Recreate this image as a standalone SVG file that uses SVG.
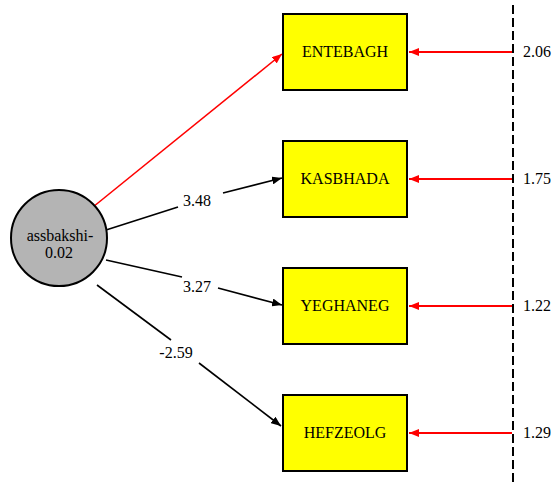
<svg xmlns="http://www.w3.org/2000/svg" width="559" height="482" viewBox="0 0 559 482" font-family="'Liberation Serif', 'Times New Roman', Times, serif">
  <style>
    text { font-family: 'Liberation Serif', 'Times New Roman', Times, serif; font-size: 16px; fill: #000; }
    .box { fill: #ffff00; stroke: #000; stroke-width: 2; }
    .lbl { text-anchor: middle; }
    .path { fill: none; stroke: #000; stroke-width: 1.6; }
    .red { fill: none; stroke: #ff0000; stroke-width: 1.6; }
    .err { fill: none; stroke: #ff0000; stroke-width: 2; }
  </style>
  <defs>
    <marker id="ah" viewBox="0 0 10 8" refX="10" refY="4" markerWidth="10" markerHeight="8" markerUnits="userSpaceOnUse" orient="auto">
      <path d="M0,0 L10,4 L0,8 Z" fill="#000"/>
    </marker>
    <marker id="ahr" viewBox="0 0 10 8" refX="10" refY="4" markerWidth="10" markerHeight="8" markerUnits="userSpaceOnUse" orient="auto">
      <path d="M0,0 L10,4 L0,8 Z" fill="#ff0000"/>
    </marker>
  </defs>

  <!-- paths, residual arrows and their values -->
  <g id="connectors">
    <line x1="513" y1="5" x2="513" y2="482" stroke="#000" stroke-width="2" stroke-dasharray="9 4"/>
    <line class="err" x1="512" y1="52" x2="409" y2="52" marker-end="url(#ahr)"/>
    <line class="err" x1="512" y1="179" x2="409" y2="179" marker-end="url(#ahr)"/>
    <line class="err" x1="512" y1="306" x2="409" y2="306" marker-end="url(#ahr)"/>
    <line class="err" x1="512" y1="433" x2="409" y2="433" marker-end="url(#ahr)"/>
    <line class="red" x1="93" y1="207" x2="282" y2="54" marker-end="url(#ahr)"/>
    <line class="path" x1="106" y1="230" x2="178" y2="207"/>
    <line class="path" x1="223" y1="193" x2="282" y2="178" marker-end="url(#ah)"/>
    <text x="197" y="206" class="lbl">3.48</text>
    <line class="path" x1="106" y1="260" x2="182" y2="277"/>
    <line class="path" x1="218" y1="288" x2="282" y2="305" marker-end="url(#ah)"/>
    <text x="197" y="292" class="lbl">3.27</text>
    <line class="path" x1="97" y1="285" x2="171" y2="340"/>
    <line class="path" x1="199" y1="363" x2="281" y2="426" marker-end="url(#ah)"/>
    <text x="176" y="358" class="lbl">-2.59</text>
    <text x="523" y="57">2.06</text>
    <text x="523" y="184">1.75</text>
    <text x="523" y="311">1.22</text>
    <text x="523" y="438">1.29</text>
  </g>

  <g id="assbakshi">
    <circle cx="59" cy="238" r="48" fill="#b4b4b4" stroke="#000" stroke-width="2"/>
    <text x="60" y="241" class="lbl">assbakshi-</text>
    <text x="59" y="258" class="lbl">0.02</text>
  </g>
  <g id="ENTEBAGH">
    <rect class="box" x="283" y="14" width="124" height="76"/>
    <text x="345" y="57" class="lbl">ENTEBAGH</text>
  </g>
  <g id="KASBHADA">
    <rect class="box" x="283" y="141" width="124" height="76"/>
    <text x="345" y="184" class="lbl">KASBHADA</text>
  </g>
  <g id="YEGHANEG">
    <rect class="box" x="283" y="268" width="124" height="76"/>
    <text x="345" y="311" class="lbl">YEGHANEG</text>
  </g>
  <g id="HEFZEOLG">
    <rect class="box" x="283" y="395" width="124" height="76"/>
    <text x="345" y="438" class="lbl">HEFZEOLG</text>
  </g>
</svg>
